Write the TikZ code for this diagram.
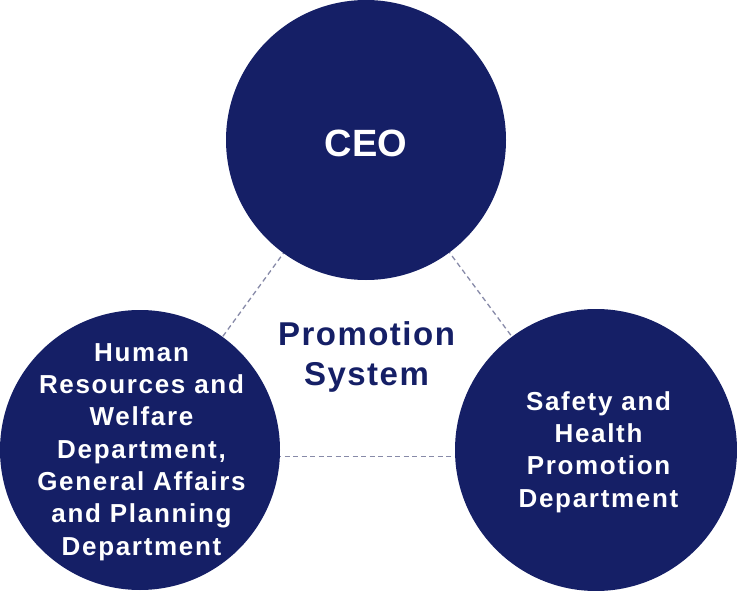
\documentclass[tikz,border=0pt]{standalone}
\usepackage{fontspec}
\newfontfamily\circfont{Liberation Sans Bold}[LetterSpace=6.5]
\newfontfamily\ceofont{Liberation Sans Bold}
\newfontfamily\promofont{Liberation Sans Bold}[LetterSpace=4.5]
\definecolor{navy}{RGB}{21,31,102}
\definecolor{dashgray}{RGB}{135,138,168}
\begin{document}
\begin{tikzpicture}[x=1pt,y=-1pt,
  circ/.style={circle,fill=navy,draw=none,minimum size=280pt,inner sep=0pt},
  intext/.style={text=white,align=center,inner sep=0pt,font=\circfont\fontsize{26}{32.3}\selectfont},
  ceotext/.style={text=white,inner sep=0pt,font=\ceofont\fontsize{38}{40}\selectfont},
  promo/.style={text=navy,align=center,inner sep=0pt,font=\promofont\fontsize{33}{40}\selectfont},
  link/.style={draw=dashgray,line width=1.3pt,dash pattern=on 5pt off 3.5pt}]
\useasboundingbox (0,0) rectangle (737,591);
\coordinate (ceoc) at (366,140);
\coordinate (lc) at (140,450);
\coordinate (rc) at (596,450);
\draw[link] (ceoc) -- (lc);
\draw[link] (ceoc) -- (rc);
\draw[link] ([yshift=-6.5pt]lc) -- ([yshift=-6.5pt]rc);
\node[circ] (ceo) at (ceoc) {};
\node[circ] (left) at (lc) {};
\node[circ,minimum size=282pt] (right) at (rc) {};
\node[ceotext] (ceolbl) at (366,143.5) {CEO};
\node[intext] (leftlbl) at (141.5,452) {Human\\Resources and\\Welfare\\Department,\\General Affairs\\and Planning\\Department};
\node[intext] (rightlbl) at (598.5,452) {Safety and\\Health\\Promotion\\Department};
\node[promo] (promolbl) at (366.5,357) {Promotion\\System};
\end{tikzpicture}
\end{document}
